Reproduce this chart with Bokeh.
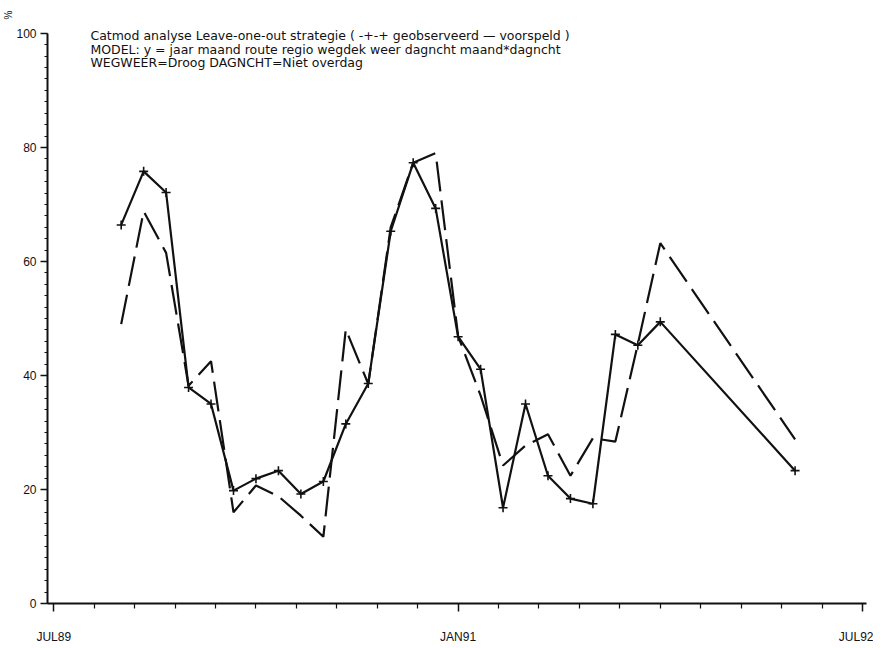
import math
from bokeh.plotting import figure
from bokeh.models import FixedTicker, Label, ColumnDataSource, Range1d, Title
from bokeh.embed import file_html
from bokeh.resources import INLINE

# ---- data -------------------------------------------------------------
start_month = "1989-07"  # JUL89 = month 0 on the time axis
periods = ["1989-10", "1989-11", "1989-12", "1990-01", "1990-02", "1990-03",
           "1990-04", "1990-05", "1990-06", "1990-07", "1990-08", "1990-09",
           "1990-10", "1990-11", "1990-12", "1991-01", "1991-02", "1991-03",
           "1991-04", "1991-05", "1991-06", "1991-07", "1991-08", "1991-09",
           "1991-10", "1992-04"]
observed = [66.4, 75.8, 72.1, 37.9, 35.0, 19.8, 21.9, 23.3, 19.2, 21.4, 31.5,
            38.6, 65.3, 77.3, 69.3, 46.8, 41.1, 16.8, 35.0, 22.4, 18.4, 17.5,
            47.2, 45.3, 49.4, 23.3]
predicted = [49.0, 68.8, 61.5, 38.2, 42.5, 16.0, 20.7, 18.8, 15.4, 11.7, 48.1,
             38.5, 66.0, 77.3, 79.0, 46.9, 36.5, 24.2, 27.7, 29.7, 22.4, 29.0,
             28.4, 45.5, 63.2, 28.8]
x_tick_labels = ["JUL89", "JAN91", "JUL92"]
x_tick_periods = ["1989-07", "1991-01", "1992-07"]
y_ticks = [0, 20, 40, 60, 80, 100]
title_lines = [
    "Catmod analyse Leave-one-out strategie   ( -+-+ geobserveerd   \u2014 voorspeld )",
    "MODEL: y = jaar maand route regio wegdek weer dagncht maand*dagncht",
    "WEGWEER=Droog DAGNCHT=Niet overdag",
]


def month_index(s):
    y0, m0 = map(int, start_month.split("-"))
    y, m = map(int, s.split("-"))
    return (y - y0) * 12 + (m - m0)


xs = [month_index(s) for s in periods]
xt = [month_index(s) for s in x_tick_periods]

src = ColumnDataSource(dict(x=xs, obs=observed, pred=predicted))

FONT = "Liberation Sans"
TFONT = "DejaVu Sans"
INK = "#111111"

H, BOTTOM, TOP_GAP = 646, 41, 33
frame_h = H - BOTTOM
y_end = 100 * frame_h / (frame_h - TOP_GAP)

p = figure(width=873, height=H, output_backend="svg", toolbar_location=None,
           x_range=Range1d(-0.28, 36.18), y_range=Range1d(0, y_end),
           min_border_left=47, min_border_right=7, min_border_top=0,
           min_border_bottom=BOTTOM)
p.outline_line_color = None
p.grid.visible = False
p.background_fill_color = "white"
p.border_fill_color = "white"

# lines
p.line("x", "pred", source=src, line_color=INK, line_width=2.2, line_dash="30 9")
p.line("x", "obs", source=src, line_color=INK, line_width=2.2)
p.scatter("x", "obs", source=src, marker="cross", size=9, line_width=1.6,
          line_color=INK)

# axes
minor_x = []
for a, b in zip(xt[:-1], xt[1:]):
    step = (b - a) / 10
    minor_x += [a + step * k for k in range(1, 10)]
p.xaxis.ticker = FixedTicker(ticks=xt, minor_ticks=minor_x)
p.xaxis.major_label_overrides = {t: l for t, l in zip(xt, x_tick_labels)}
p.yaxis.ticker = FixedTicker(ticks=y_ticks,
                             minor_ticks=list(range(0, 101, 2)))
p.yaxis.bounds = (0, 100)

for ax in (p.xaxis[0], p.yaxis[0]):
    ax.axis_line_color = INK
    ax.axis_line_width = 2
    ax.major_tick_line_color = INK
    ax.minor_tick_line_color = INK
    ax.major_tick_line_width = 1.5
    ax.minor_tick_line_width = 1.2
    ax.major_tick_in = 0
    ax.minor_tick_in = 0
    ax.major_label_text_font = FONT
    ax.major_label_text_font_size = "12px"
    ax.major_label_text_color = INK

p.xaxis.major_tick_out = 8
p.xaxis.minor_tick_out = 5
p.xaxis.major_label_standoff = 18
p.yaxis.major_tick_out = 7
p.yaxis.minor_tick_out = 3
p.yaxis.major_label_standoff = 4

# header texts
for i, t in enumerate(title_lines):
    p.add_layout(Label(x=1.63, y=99.6 - i * 2.35, text=t, text_font=TFONT,
                       text_font_size="12.5px", text_color=INK,
                       text_baseline="alphabetic"))

# unit label (rotated %) at the top of the value axis
p.add_layout(Title(text="%", align="right", text_font=FONT,
                   text_font_size="10px", text_font_style="normal",
                   text_color=INK, standoff=0, offset=10), "left")

open("out.html", "w").write(file_html(p, INLINE))
